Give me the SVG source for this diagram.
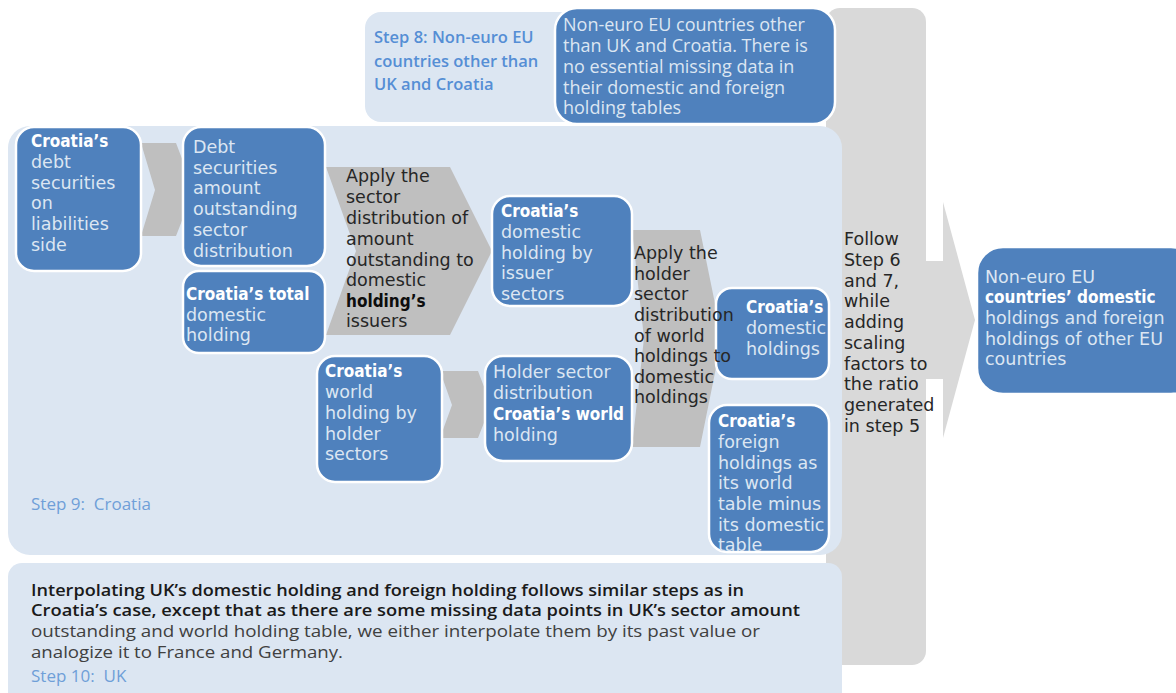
<svg xmlns="http://www.w3.org/2000/svg" width="1176" height="693" viewBox="0 0 1176 693">
<style>
.node{fill:#4f81bd;stroke:#ffffff;stroke-width:2.5}
.panel{fill:#dce6f2}
.chev{fill:#bfbfbf}
.big{fill:#d9d9d9}
.n{font-family:"DejaVu Sans",Verdana,sans-serif;font-size:17.5px;fill:#dce6f2}
.b{font-family:"DejaVu Sans Condensed","DejaVu Sans",sans-serif;font-stretch:condensed;font-weight:bold;font-size:17px;fill:#ffffff}
.c{font-family:"DejaVu Sans",Verdana,sans-serif;font-size:17.5px;fill:#262626}
.cb{font-family:"DejaVu Sans Condensed","DejaVu Sans",sans-serif;font-stretch:condensed;font-weight:bold;font-size:17px;fill:#0d0d0d}
.o{font-family:"Open Sans","Liberation Sans",sans-serif}
.lbl{font-family:"Open Sans","Liberation Sans",sans-serif;font-size:17px;fill:#6f9fd8;white-space:pre}
</style>
<g id="backgrounds">
<rect class="big" x="826" y="8" width="100" height="657" rx="14"/>
<rect class="panel" x="365" y="12" width="470" height="110" rx="16"/>
<rect class="panel" x="8" y="126" width="834" height="429" rx="22"/>
<rect class="panel" x="8" y="563" width="834" height="150" rx="14"/>
</g>
<g id="connectors">
<polygon class="big" points="924,261 943,261 943,202 975,320 943,438 943,379 924,379"/>
<polygon class="chev" points="141,143 176,143 194,190 176,236 141,236 155,190"/>
<polygon class="chev" points="326,167 450,167 492,251 450,335 326,335 356,251"/>
<polygon class="chev" points="440,371 478,371 491,405 478,438 440,438 452,405"/>
<polygon class="chev" points="632,230 700,230 722,338 700,447 632,447 644,338"/>
</g>
<g id="step8">
<text class="o" font-size="16.5" font-weight="600" fill="#558ed5"><tspan x="374" y="43">Step 8: Non-euro EU</tspan><tspan x="374" y="67">countries other than</tspan><tspan x="374" y="90">UK and Croatia</tspan></text>
</g>
<g id="node-noneuro-other">
<rect class="node" x="555" y="8" width="280" height="116" rx="22"/>
<text class="o" font-size="18" fill="#dce6f2"><tspan x="563" y="31">Non-euro EU countries other</tspan><tspan x="563" y="52">than UK and Croatia. There is</tspan><tspan x="563" y="73">no essential missing data in</tspan><tspan x="563" y="94">their domestic and foreign</tspan><tspan x="563" y="114">holding tables</tspan></text>
</g>
<g id="node-debt">
<rect class="node" x="16" y="127" width="125" height="144" rx="18"/>
<text class="n"><tspan class="b" x="31" y="147">Croatia’s</tspan><tspan x="31" y="168">debt</tspan><tspan x="31" y="189">securities</tspan><tspan x="31" y="209">on</tspan><tspan x="31" y="230">liabilities</tspan><tspan x="31" y="251">side</tspan></text>
</g>
<g id="node-sector-dist">
<rect class="node" x="183" y="127" width="142" height="139" rx="18"/>
<text class="n"><tspan x="193" y="153">Debt</tspan><tspan x="193" y="174">securities</tspan><tspan x="193" y="194">amount</tspan><tspan x="193" y="215">outstanding</tspan><tspan x="193" y="236">sector</tspan><tspan x="193" y="257">distribution</tspan></text>
</g>
<g id="node-total-domestic">
<rect class="node" x="183" y="271" width="142" height="82" rx="16"/>
<text class="n"><tspan class="b" x="186" y="300">Croatia’s total</tspan><tspan x="186" y="321">domestic</tspan><tspan x="186" y="341">holding</tspan></text>
</g>
<g id="label-apply-sector">
<text class="c"><tspan x="346" y="182">Apply the</tspan><tspan x="346" y="203">sector</tspan><tspan x="346" y="224">distribution of</tspan><tspan x="346" y="245">amount</tspan><tspan x="346" y="266">outstanding to</tspan><tspan x="346" y="286">domestic</tspan><tspan class="cb" x="346" y="307">holding’s</tspan><tspan x="346" y="327">issuers</tspan></text>
</g>
<g id="node-domestic-issuer">
<rect class="node" x="492" y="196" width="140" height="110" rx="18"/>
<text class="n"><tspan class="b" x="501" y="217">Croatia’s</tspan><tspan x="501" y="238">domestic</tspan><tspan x="501" y="259">holding by</tspan><tspan x="501" y="279">issuer</tspan><tspan x="501" y="300">sectors</tspan></text>
</g>
<g id="node-world-holder">
<rect class="node" x="317" y="356" width="125" height="126" rx="18"/>
<text class="n"><tspan class="b" x="325" y="377">Croatia’s</tspan><tspan x="325" y="398">world</tspan><tspan x="325" y="419">holding by</tspan><tspan x="325" y="440">holder</tspan><tspan x="325" y="460">sectors</tspan></text>
</g>
<g id="node-holder-dist">
<rect class="node" x="485" y="356" width="147" height="105" rx="18"/>
<text class="n"><tspan x="493" y="378">Holder sector</tspan><tspan x="493" y="399">distribution</tspan><tspan class="b" x="493" y="420">Croatia’s world</tspan><tspan x="493" y="441">holding</tspan></text>
</g>
<g id="node-domestic-holdings">
<rect class="node" x="716" y="288" width="113" height="91" rx="16"/>
<text class="n"><tspan class="b" x="746" y="313">Croatia’s</tspan><tspan x="746" y="334">domestic</tspan><tspan x="746" y="355">holdings</tspan></text>
</g>
<g id="node-foreign-holdings">
<rect class="node" x="709" y="405" width="120" height="147" rx="18"/>
<text class="n"><tspan class="b" x="718" y="427">Croatia’s</tspan><tspan x="718" y="448">foreign</tspan><tspan x="718" y="469">holdings as</tspan><tspan x="718" y="489">its world</tspan><tspan x="718" y="510">table minus</tspan><tspan x="718" y="531">its domestic</tspan><tspan x="718" y="551">table</tspan></text>
</g>
<g id="label-apply-holder">
<text class="c"><tspan x="634" y="259">Apply the</tspan><tspan x="634" y="280">holder</tspan><tspan x="634" y="300">sector</tspan><tspan x="634" y="321">distribution</tspan><tspan x="634" y="342">of world</tspan><tspan x="634" y="362">holdings to</tspan><tspan x="634" y="383">domestic</tspan><tspan x="634" y="403">holdings</tspan></text>
</g>
<g id="step9">
<text class="lbl" x="31" y="510">Step 9:  Croatia</text>
</g>
<g id="label-follow">
<text class="c" font-size="17"><tspan x="844" y="245">Follow</tspan><tspan x="844" y="266">Step 6</tspan><tspan x="844" y="287">and 7,</tspan><tspan x="844" y="307">while</tspan><tspan x="844" y="328">adding</tspan><tspan x="844" y="349">scaling</tspan><tspan x="844" y="370">factors to</tspan><tspan x="844" y="390">the ratio</tspan><tspan x="844" y="411">generated</tspan><tspan x="844" y="432">in step 5</tspan></text>
</g>
<g id="node-final">
<rect class="node" x="977" y="247" width="220" height="147" rx="26"/>
<text class="n" font-size="17"><tspan x="985" y="283">Non-euro EU</tspan><tspan class="b" x="985" y="303">countries’ domestic</tspan><tspan x="985" y="324">holdings and foreign</tspan><tspan x="985" y="345">holdings of other EU</tspan><tspan x="985" y="365">countries</tspan></text>
</g>
<g id="step10">
<text class="o" font-size="16" font-weight="600" fill="#1a1a1a"><tspan x="31" y="596" textLength="713" lengthAdjust="spacingAndGlyphs">Interpolating UK’s domestic holding and foreign holding follows similar steps as in</tspan><tspan x="31" y="616" textLength="769" lengthAdjust="spacingAndGlyphs">Croatia’s case, except that as there are some missing data points in UK’s sector amount</tspan></text>
<text class="o" font-size="16" fill="#404040"><tspan x="31" y="637" textLength="729" lengthAdjust="spacingAndGlyphs">outstanding and world holding table, we either interpolate them by its past value or</tspan><tspan x="31" y="658" textLength="312" lengthAdjust="spacingAndGlyphs">analogize it to France and Germany.</tspan></text>
<text class="lbl" x="31" y="682">Step 10:  UK</text>
</g>
</svg>
